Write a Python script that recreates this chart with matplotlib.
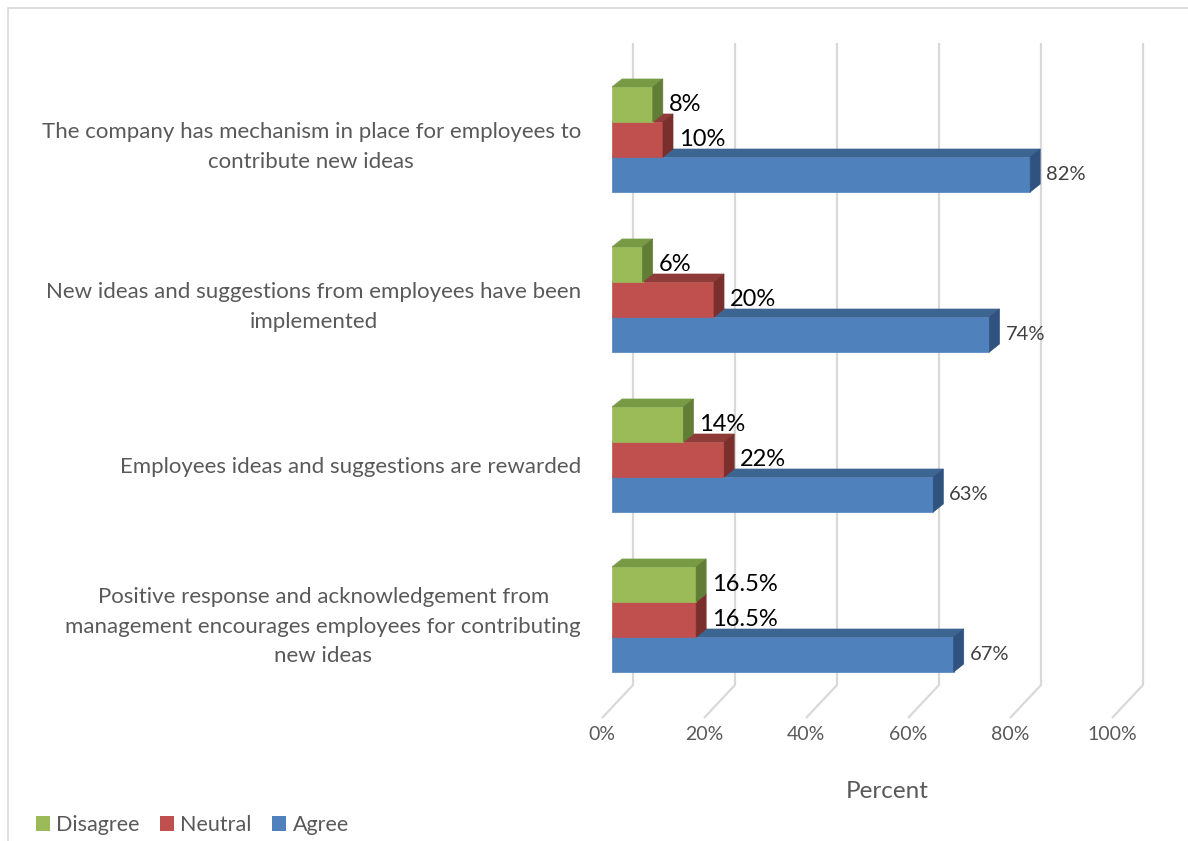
import matplotlib
matplotlib.use("Agg")
import matplotlib.pyplot as plt
from matplotlib.patches import Polygon, Rectangle, Patch

# ---- data ----
categories = [
    "The company has mechanism in place for employees to\ncontribute new ideas",
    "New ideas and suggestions from employees have been\nimplemented",
    "Employees ideas and suggestions are rewarded",
    "Positive response and acknowledgement from\nmanagement encourages employees for contributing\nnew ideas",
]
disagree = [8, 6, 14, 16.5]
neutral = [10, 20, 22, 16.5]
agree = [82, 74, 63, 67]
series_names = ["Disagree", "Neutral", "Agree"]
tick_values = [0, 20, 40, 60, 80, 100]
tick_labels = ["0%", "20%", "40%", "60%", "80%", "100%"]
axis_title = "Percent"

# ---- styling ----
FONT = "Lato"
plt.rcParams["font.family"] = [FONT, "DejaVu Sans"]
GRAY_TEXT = "#595959"
GRID = "#D9D9D9"
front_cols = {"Disagree": "#9BBB59", "Neutral": "#C0504D", "Agree": "#4F81BD"}
top_cols = {"Disagree": "#789A45", "Neutral": "#8E3B39", "Agree": "#3D6592"}
side_cols = {"Disagree": "#617D36", "Neutral": "#7A2F2D", "Agree": "#30527F"}
label_style = {
    "Disagree": dict(color="black", fontsize=17),
    "Neutral": dict(color="black", fontsize=17),
    "Agree": dict(color="#404040", fontsize=14.5),
}

W, H = 1188, 841
fig = plt.figure(figsize=(W / 100, H / 100), dpi=100)

# plot area (front plane of the bars) in pixels
L, R, T, B = 612, 1122, 43, 718
first_center, spacing = 139.5, 160.0
ax = fig.add_axes([L / W, 1 - B / H, (R - L) / W, (B - T) / H])
ax.set_xlim(0, 100)
ax.set_ylim((B - first_center) / spacing, (T - first_center) / spacing)
ax.axis("off")

px_x = (R - L) / 100.0  # pixels per percent
px_y = spacing          # pixels per category
bar_h = 35 / px_y
ddx, ddy = 10 / px_x, 8 / px_y          # bar depth
back_dx = 21 / px_x                     # back wall offset
front_dx = -10 / px_x                   # floor front edge offset
floor_back = (685 - first_center) / px_y
floor_front = (B - first_center) / px_y
grid_top = (T - first_center) / px_y

# gridlines on back wall and floor
for t in tick_values:
    ax.plot([t + back_dx, t + back_dx, t + front_dx],
            [grid_top, floor_back, floor_front],
            color=GRID, lw=1.6, solid_capstyle="butt", zorder=0, clip_on=False)

for t, lab in zip(tick_values, tick_labels):
    ax.text(t + front_dx, (735 - first_center) / px_y, lab, ha="center", va="center",
            fontsize=14, color=GRAY_TEXT, clip_on=False)

ax.text(53.9, (791 - first_center) / px_y, axis_title, ha="center", va="center",
        fontsize=17.5, color=GRAY_TEXT, clip_on=False)

# 3D bars: draw bottom series first so upper bars cover hidden faces
series = {"Disagree": disagree, "Neutral": neutral, "Agree": agree}
offsets = {"Disagree": -bar_h, "Neutral": 0.0, "Agree": bar_h}
for i in range(len(categories)):
    for name in ["Agree", "Neutral", "Disagree"]:
        v = series[name][i]
        yc = i + offsets[name]
        y0, y1 = yc - bar_h / 2, yc + bar_h / 2
        ax.barh(yc, v, height=bar_h, left=0, color=front_cols[name],
                edgecolor=front_cols[name], lw=0.5, zorder=2)
        ax.add_patch(Polygon([(0, y0), (v, y0), (v + ddx, y0 - ddy), (ddx, y0 - ddy)],
                             closed=True, fc=top_cols[name], ec=top_cols[name],
                             lw=0.5, zorder=2))
        ax.add_patch(Polygon([(v, y0), (v + ddx, y0 - ddy), (v + ddx, y1 - ddy), (v, y1)],
                             closed=True, fc=side_cols[name], ec=side_cols[name],
                             lw=0.5, zorder=2))
        ax.text(v + ddx + 6 / px_x, yc, f"{v:g}%", ha="left", va="center",
                zorder=3, clip_on=False, **label_style[name])

# category labels
for i, cat in enumerate(categories):
    ax.text(-(L - 581) / px_x, i + 0.045, cat, ha="right", va="center",
            multialignment="center", fontsize=16, color=GRAY_TEXT,
            linespacing=1.6, clip_on=False)

# legend
handles = [Patch(facecolor=front_cols[n], edgecolor="none") for n in series_names]
leg = fig.legend(handles, series_names, loc="center left",
                 bbox_to_anchor=(36 / W, 16 / H), ncol=3, frameon=False,
                 fontsize=15.5, handlelength=0.64, handleheight=0.64,
                 handletextpad=0.3, columnspacing=0.95, borderpad=0,
                 borderaxespad=0)
for txt in leg.get_texts():
    txt.set_color(GRAY_TEXT)

# chart border
fig.patches.append(Rectangle((8 / W, -0.5), 2.0, 1 - 8 / H + 0.5,
                             transform=fig.transFigure, fill=False,
                             ec=GRID, lw=1.2))

fig.savefig("out.png", dpi=100, facecolor="white")
